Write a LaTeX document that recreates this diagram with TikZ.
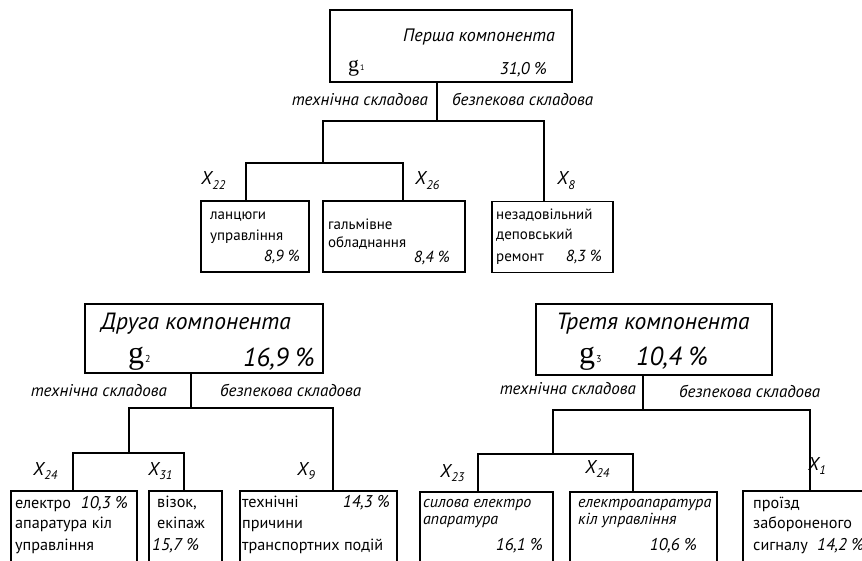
\documentclass[tikz,border=0pt]{standalone}
\usepackage{fontspec}
\setmainfont{PT Sans}
\newfontfamily\gfont{Liberation Serif}
\newcommand\Xsub[1]{X\kern0.3pt\raisebox{-4.5pt}{\fontsize{12.5}{12.5}\selectfont #1}}
\newcommand\gsub[2]{{\gfont g}\kern1pt\raisebox{1pt}{\fontsize{#2}{#2}\selectfont #1}}
\begin{document}
\begin{tikzpicture}[x=1pt,y=-1pt,
  box/.style={draw, line width=1.8pt, inner sep=0pt},
  conn/.style={line width=1.8pt},
  ttlS/.style={font=\itshape\fontsize{18}{20}\selectfont, inner sep=0pt, anchor=base},
  ttlB/.style={font=\itshape\fontsize{23.5}{26}\selectfont, inner sep=0pt, anchor=base},
  gS/.style={font=\fontsize{22}{24}\selectfont, inner sep=0pt, anchor=base west},
  gB/.style={font=\fontsize{32}{34}\selectfont, inner sep=0pt, anchor=base west},
  pctS/.style={font=\itshape\fontsize{17}{20}\selectfont, inner sep=0pt},
  pctB/.style={font=\itshape\fontsize{26}{28}\selectfont, inner sep=0pt},
  lbl/.style={font=\itshape\fontsize{17}{19}\selectfont, inner sep=0pt},
  xlab/.style={font=\itshape\fontsize{18.5}{20}\selectfont, inner sep=0pt, anchor=base west},
  txtA/.style={font=\fontsize{15}{18}\selectfont, inner sep=0pt, anchor=base west},
  txtB/.style={font=\fontsize{16.2}{18}\selectfont, inner sep=0pt, anchor=base west},
  txtI/.style={font=\itshape\fontsize{16}{18}\selectfont, inner sep=0pt, anchor=base west},
  pA/.style={font=\itshape\fontsize{16}{18}\selectfont, inner sep=0pt},
  pB/.style={font=\itshape\fontsize{17}{18}\selectfont, inner sep=0pt}
]
\useasboundingbox (0,0) rectangle (862,561);
\clip (0,0) rectangle (862,561);

% ---------- first component ----------
\node[box, minimum width=242pt, minimum height=72pt] (P) at (451,46) {};
\node[ttlS] (Pt) at (479,42) {Перша компонента};
\node[gS] (Pg) at (348,72) {\gsub{1}{8}};
\node[pctS, anchor=base east] (Pp) at (547,75) {31,0 \%};
\node[lbl, anchor=base east] (Pl1) at (428,106) {технічна складова};
\node[lbl, anchor=base west] (Pl2) at (452,106) {безпекова складова};

\coordinate (pj) at (437,121);
\coordinate (pl) at (323,121);
\coordinate (pr) at (544,121);
\coordinate (pa) at (246,163);
\coordinate (pb) at (403,163);

\node[box, minimum width=108pt, minimum height=71pt] (B1) at (255,236.5) {};
\node[box, minimum width=142pt, minimum height=71pt] (B2) at (394,236.5) {};
\node[box, minimum width=121pt, minimum height=71pt] (B3) at (552.5,237) {};

\draw[conn] (P.south -| pj) -- (pj);
\draw[conn] (pl |- pa) -- (pl) -- (pr) -- (B3.north -| pr);
\draw[conn] (B1.north -| pa) -- (pa) -- (pb) -- (B2.north -| pb);

\node[xlab] (X22) at (201,185) {\Xsub{22}};
\node[xlab] (X26) at (415,185) {\Xsub{26}};
\node[xlab] (X8) at (557,185) {\Xsub{8}};

\node[txtA] (b1a) at (210,220) {ланцюги};
\node[txtA] (b1b) at (210,241) {управління};
\node[pA, anchor=base east] (b1p) at (300,262) {8,9 \%};
\node[txtA] (b2a) at (328,230) {гальмівне};
\node[txtA] (b2b) at (328,248) {обладнання};
\node[pA, anchor=base east] (b2p) at (450,263) {8,4 \%};
\node[txtA] (b3a) at (496,220) {незадовільний};
\node[txtA] (b3b) at (496,240) {деповський};
\node[txtA] (b3c) at (496,262) {ремонт};
\node[pA, anchor=base east] (b3p) at (602,262) {8,3 \%};

% ---------- second component ----------
\node[box, minimum width=238pt, minimum height=69pt] (D) at (204,338.5) {};
\node[ttlB] (Dt) at (196,330) {Друга компонента};
\node[gB] (Dg) at (128,363) {\gsub{2}{10}};
\node[pctB, anchor=base east] (Dp) at (315,366) {16,9 \%};
\node[lbl, anchor=base east] (Dl1) at (167,396) {технічна складова};
\node[lbl, anchor=base west] (Dl2) at (220,396) {безпекова складова};

\coordinate (dj) at (191,408);
\coordinate (dl) at (129,408);
\coordinate (dr) at (333,408);
\coordinate (da) at (73,453);
\coordinate (db) at (184,453);

\node[box, minimum width=126pt, minimum height=90pt] (E1) at (74,536) {};
\node[box, minimum width=73pt, minimum height=90pt] (E2) at (185.5,536) {};
\node[box, minimum width=157pt, minimum height=90pt] (E3) at (318.5,536) {};

\draw[conn] (D.south -| dj) -- (dj);
\draw[conn] (dl |- da) -- (dl) -- (dr) -- (E3.north -| dr);
\draw[conn] (E1.north -| da) -- (da) -- (db) -- (E2.north -| db);

\node[xlab] (X24a) at (33,475) {\Xsub{24}};
\node[xlab] (X31) at (148,475) {\Xsub{31}};
\node[xlab] (X9) at (297,475) {\Xsub{9}};

\node[txtB] (e1a) at (15,508) {електро};
\node[pB, anchor=base east] (e1p) at (128,508) {10,3 \%};
\node[txtB] (e1b) at (15,528) {апаратура кіл};
\node[txtB] (e1c) at (15,550) {управління};
\node[txtB] (e2a) at (157,507) {візок,};
\node[txtB] (e2b) at (157,528) {екіпаж};
\node[pB, anchor=base west] (e2p) at (152,550) {15,7 \%};
\node[txtB] (e3a) at (242,507) {технічні};
\node[pB, anchor=base east] (e3p) at (390,507) {14,3 \%};
\node[txtB] (e3b) at (242,528) {причини};
\node[txtB] (e3c) at (242,550) {транспортних подій};

% ---------- third component ----------
\node[box, minimum width=236pt, minimum height=71pt] (T) at (654,339.5) {};
\node[ttlB] (Tt) at (653,330) {Третя компонента};
\node[gB] (Tg) at (579,363) {\gsub{3}{10}};
\node[pctB, anchor=base west] (Tp) at (636,365) {10,4 \%};
\node[lbl, anchor=base east] (Tl1) at (636,394) {технічна складова};
\node[lbl, anchor=base west] (Tl2) at (679,397) {безпекова складова};

\coordinate (tj) at (643,410);
\coordinate (tl) at (553,410);
\coordinate (tr) at (810,410);
\coordinate (ta) at (478,454);
\coordinate (tb) at (633,454);

\node[box, minimum width=133pt, minimum height=90pt] (F1) at (486.5,537) {};
\node[box, minimum width=147pt, minimum height=90pt] (F2) at (643.5,537) {};
\node[box, minimum width=157pt, minimum height=90pt] (F3) at (821.5,536) {};

\draw[conn] (T.south -| tj) -- (tj);
\draw[conn] (tl |- ta) -- (tl) -- (tr) -- (F3.north -| tr);
\draw[conn] (F1.north -| ta) -- (ta) -- (tb) -- (F2.north -| tb);

\node[xlab] (X23) at (440,477) {\Xsub{23}};
\node[xlab] (X24b) at (585,473) {\Xsub{24}};
\node[xlab] (X1) at (808,470) {\Xsub{1}};

\node[txtI] (f1a) at (423,507) {силова електро};
\node[txtI] (f1b) at (423,524) {апаратура};
\node[pB, anchor=base east] (f1p) at (543,550) {16,1 \%};
\node[txtI] (f2a) at (578,507) {електроапаратура};
\node[txtI] (f2b) at (578,524) {кіл управління};
\node[pB, anchor=base east] (f2p) at (697,550) {10,6 \%};
\node[txtB] (f3a) at (753,508) {проїзд};
\node[txtB] (f3b) at (753,528) {забороненого};
\node[txtB] (f3c) at (753,550) {сигналу};
\node[pB, anchor=base west] (f3p) at (817,550) {14,2 \%};
\end{tikzpicture}
\end{document}
